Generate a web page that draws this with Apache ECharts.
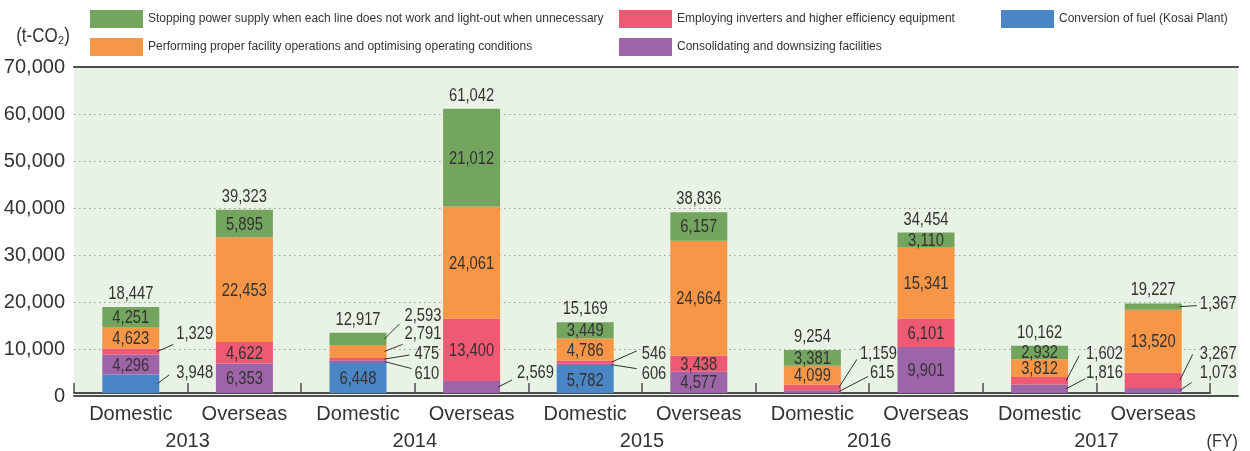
<!DOCTYPE html>
<html>
<head>
<meta charset="utf-8">
<script src="https://cdn.jsdelivr.net/npm/echarts@6/dist/echarts.min.js"></script>
<style>html,body{margin:0;padding:0;background:#fff;}#c{width:1250px;height:451px;}</style>
</head>
<body>
<div id="c"></div>
<script>
// ---- data ----
const categories = ['Domestic','Overseas','Domestic','Overseas','Domestic','Overseas','Domestic','Overseas','Domestic','Overseas'];
const years = ['2013','2014','2015','2016','2017'];
const fuel          = [3948, 0, 6448, 0, 5782, 0, 0, 0, 0, 0];
const consolidating = [4296, 6353, 610, 2569, 606, 4577, 615, 9901, 1816, 1073];
const inverters     = [1329, 4622, 475, 13400, 546, 3438, 1159, 6101, 1602, 3267];
const operations    = [4623, 22453, 2791, 24061, 4786, 24664, 4099, 15341, 3812, 13520];
const stopping      = [4251, 5895, 2593, 21012, 3449, 6157, 3381, 3110, 2932, 1367];
const totals        = [18447, 39323, 12917, 61042, 15169, 38836, 9254, 34454, 10162, 19227];
const yTicks = [0, 10000, 20000, 30000, 40000, 50000, 60000, 70000];

const names = {
  stopping: 'Stopping power supply when each line does not work and light-out when unnecessary',
  operations: 'Performing proper facility operations and optimising operating conditions',
  inverters: 'Employing inverters and higher efficiency equipment',
  consolidating: 'Consolidating and downsizing facilities',
  fuel: 'Conversion of fuel (Kosai Plant)'
};
const colors = {
  stopping: '#74a55f', operations: '#f79646', inverters: '#ee5a73',
  consolidating: '#9e64a8', fuel: '#4a86c6'
};
const stackOrder = ['fuel', 'consolidating', 'inverters', 'operations', 'stopping'];
const values = {fuel, consolidating, inverters, operations, stopping};

// ---- callout layout (pixel offsets relative to bar edge / segment middle) ----
const callouts = [
  {cat: 0, key: 'inverters',     lx: 17, dy: -17, ex: 14, ey: 10},
  {cat: 0, key: 'fuel',          lx: 17, dy: -11, ex: 10, ey: 2},
  {cat: 2, key: 'stopping',      lx: 18, dy: -23, ex: 13, ey: 8},
  {cat: 2, key: 'operations',    lx: 18, dy: -17, ex: 16, ey: 10},
  {cat: 2, key: 'inverters',     lx: 28, dy: -5,  ex: 23, ey: 1},
  {cat: 2, key: 'consolidating', lx: 28, dy: 12,  ex: 25, ey: -5},
  {cat: 3, key: 'consolidating', lx: 17, dy: -14, ex: 12, ey: 7},
  {cat: 4, key: 'inverters',     lx: 28, dy: -8,  ex: 23, ey: -3},
  {cat: 4, key: 'consolidating', lx: 28, dy: 9,   ex: 23, ey: -5},
  {cat: 6, key: 'inverters',     lx: 19, dy: -33, ex: 16, ey: 5},
  {cat: 6, key: 'consolidating', lx: 29, dy: -19, ex: 27, ey: 4},
  {cat: 8, key: 'inverters',     lx: 18, dy: -27, ex: 11, ey: 2},
  {cat: 8, key: 'consolidating', lx: 18, dy: -16, ex: 17, ey: 6},
  {cat: 9, key: 'stopping',      lx: 18, dy: -3,  ex: 15, ey: 2},
  {cat: 9, key: 'inverters',     lx: 18, dy: -26, ex: 11, ey: 0},
  {cat: 9, key: 'consolidating', lx: 18, dy: -17, ex: 10, ey: 9}
];

const FONT = '"Liberation Sans", Arial, sans-serif';
const TXT = '#333333';
const BAR_W = 57;
const VAL_SIZE = 18;
const VAL_SCALE = 0.82;   // condensed look for value labels

function isCallout(cat, key) { return callouts.some(c => c.cat === cat && c.key === key); }
function fmt(v) { return Math.round(v).toLocaleString('en-US'); }
function belowOf(cat, key) {
  let b = 0;
  for (const k of stackOrder) { if (k === key) break; b += values[k][cat]; }
  return b;
}
function valText(str, x, y, align) {
  return {type: 'text', x: x, y: y, scaleX: VAL_SCALE, scaleY: 1,
    style: {text: str, x: 0, y: 0, align: align, verticalAlign: 'middle',
      fill: TXT, fontFamily: FONT, fontSize: VAL_SIZE}};
}

const barSeries = stackOrder.map(key => ({
  name: names[key],
  type: 'bar',
  stack: 'total',
  xAxisIndex: 2,
  yAxisIndex: 1,
  barWidth: BAR_W,
  itemStyle: {color: colors[key]},
  data: values[key],
  label: {show: false},
  emphasis: {disabled: true}
}));

// labels inside segments
const insideData = [];
stackOrder.forEach(key => values[key].forEach((v, i) => {
  if (v > 0 && !isCallout(i, key)) insideData.push([i, belowOf(i, key) + v / 2, v]);
}));
const insideSeries = {
  type: 'custom', xAxisIndex: 2, yAxisIndex: 1, z: 10, silent: true,
  data: insideData,
  renderItem: (params, api) => {
    const pt = api.coord([api.value(0), api.value(1)]);
    return valText(fmt(api.value(2)), pt[0], pt[1] + 1, 'center');
  }
};

const calloutData = callouts.map(c =>
  [c.cat, belowOf(c.cat, c.key) + values[c.key][c.cat] / 2, values[c.key][c.cat]]);
const calloutSeries = {
  type: 'custom', xAxisIndex: 2, yAxisIndex: 1, z: 10, silent: true,
  data: calloutData,
  renderItem: (params, api) => {
    const c = callouts[params.dataIndex];
    const pt = api.coord([api.value(0), api.value(1)]);
    const right = pt[0] + BAR_W / 2;
    const ly = pt[1] + c.dy;
    return {
      type: 'group',
      children: [
        {type: 'line', shape: {x1: right - 2, y1: pt[1], x2: right + c.ex, y2: ly + c.ey},
         style: {stroke: '#333', lineWidth: 1}},
        valText(fmt(api.value(2)), right + c.lx, ly, 'left')
      ]
    };
  }
};

const totalSeries = {
  type: 'custom', xAxisIndex: 2, yAxisIndex: 1, z: 10, silent: true,
  data: totals.map((t, i) => [i, t]),
  renderItem: (params, api) => {
    const pt = api.coord([api.value(0), api.value(1)]);
    return valText(fmt(api.value(1)), pt[0], pt[1] - 13, 'center');
  }
};

function legend(key, left, top) {
  return {
    left: left, top: top, orient: 'horizontal', selectedMode: false,
    itemWidth: 53, itemHeight: 18, itemGap: 0, icon: 'rect', padding: 0,
    textStyle: {color: TXT, fontFamily: FONT, fontSize: 12},
    data: [names[key]]
  };
}

const option = {
  animation: false,
  backgroundColor: '#ffffff',
  legend: [
    legend('stopping', 90, 10),
    legend('inverters', 619, 10),
    legend('fuel', 1001, 10),
    legend('operations', 90, 38),
    legend('consolidating', 619, 38)
  ],
  grid: [
    {left: 74, right: 12, top: 67, bottom: 55, show: true, backgroundColor: '#e9f3e5', borderWidth: 0},
    {left: 74, right: 40, top: 67, bottom: 55}
  ],
  xAxis: [
    {type: 'value', gridIndex: 0, min: 0, max: 1, position: 'bottom',
     axisLine: {show: true, onZero: false, lineStyle: {color: '#4d4d4d', width: 2}},
     axisTick: {show: false}, axisLabel: {show: false}, splitLine: {show: false}},
    {type: 'value', gridIndex: 0, min: 0, max: 1, position: 'top',
     axisLine: {show: true, onZero: false, lineStyle: {color: '#4d4d4d', width: 2}},
     axisTick: {show: false}, axisLabel: {show: false}, splitLine: {show: false}},
    {type: 'category', gridIndex: 1, data: categories, position: 'bottom',
     axisLine: {show: true, onZero: false, lineStyle: {color: '#4d4d4d', width: 2}},
     axisTick: {show: true, inside: true, length: 10, interval: 0, lineStyle: {color: '#4d4d4d', width: 1.5}},
     axisLabel: {color: TXT, fontFamily: FONT, fontSize: 20, margin: 11, interval: 0}},
    {type: 'category', gridIndex: 1, data: years, position: 'bottom',
     axisLine: {show: false}, axisTick: {show: false},
     axisLabel: {color: TXT, fontFamily: FONT, fontSize: 20, margin: 38, interval: 0}}
  ],
  yAxis: [
    {type: 'value', gridIndex: 0, min: yTicks[0], max: yTicks[yTicks.length - 1], interval: 10000,
     axisLine: {show: false}, axisTick: {show: false},
     axisLabel: {color: TXT, fontFamily: FONT, fontSize: 20, margin: 9, formatter: v => fmt(v)},
     splitLine: {show: true, lineStyle: {color: '#9a9a9a', width: 1, type: [1.5, 3.5]}}},
    {type: 'value', gridIndex: 1, min: yTicks[0], max: yTicks[yTicks.length - 1], interval: 10000,
     show: false, splitLine: {show: false}}
  ],
  graphic: [
    {type: 'text', x: 70, y: 36, scaleX: 0.85,
     style: {text: '(t-CO₂)', x: 0, y: 0, align: 'right', verticalAlign: 'middle', fill: TXT, fontFamily: FONT, fontSize: 20}},
    {type: 'text', x: 1238, y: 442, scaleX: 0.85,
     style: {text: '(FY)', x: 0, y: 0, align: 'right', verticalAlign: 'middle', fill: TXT, fontFamily: FONT, fontSize: 19}}
  ],
  series: barSeries.concat([insideSeries, calloutSeries, totalSeries])
};

const chart = echarts.init(document.getElementById('c'), null, {renderer: 'canvas'});
chart.setOption(option);
</script>
</body>
</html>
